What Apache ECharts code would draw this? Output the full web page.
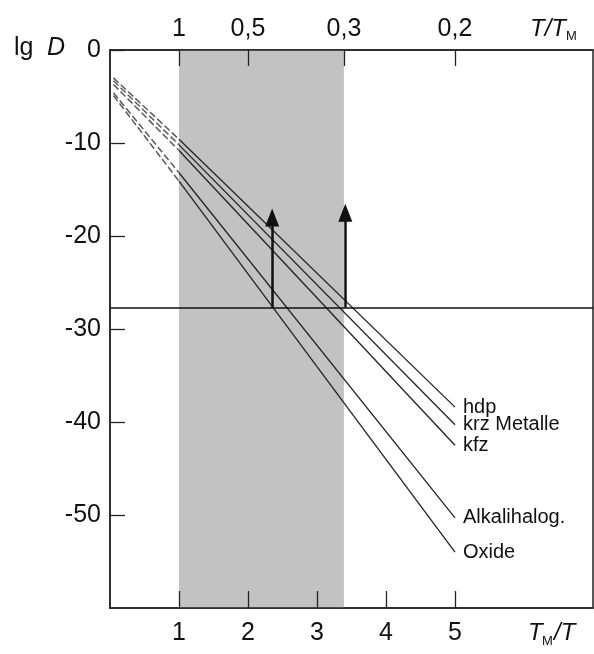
<!DOCTYPE html>
<html>
<head>
<meta charset="utf-8">
<script src="https://cdn.jsdelivr.net/npm/echarts@6/dist/echarts.min.js"></script>
<style>html,body{margin:0;padding:0;background:#fff}#c{width:594px;height:654px}</style>
</head>
<body>
<div id="c"></div>
<script>
// ---- data ----
const lineNames = ['hdp', 'krz Metalle', 'kfz', 'Alkalihalog.', 'Oxide'];
const xStart = 0.05, xBend = 1, xEnd = 5;
const valStart = [-3.0, -3.3, -3.7, -4.6, -4.9];
const valBend = [-9.6, -10.2, -10.8, -13.2, -14.1];
const valEnd = [-38.4, -40.3, -42.5, -50.3, -54.0];
const refLevel = -27.7;
const arrowX = [2.35, 3.41];
const arrowTop = [-18.0, -17.5];
const bandRange = [1, 3.39];
const bottomTicks = [1, 2, 3, 4, 5];
const topTickPos = [1, 2, 3.39, 5];
const topTickLabels = ['1', '0,5', '0,3', '0,2'];
const yTicks = [0, -10, -20, -30, -40, -50];

const FONT = '"Liberation Sans", Arial, sans-serif';
const chart = echarts.init(document.getElementById('c'), null, {renderer: 'canvas'});

const series = [];
lineNames.forEach((name, i) => {
  series.push({
    type: 'line', name: name + '_d', xAxisIndex: 0, yAxisIndex: 0,
    data: [[xStart, valStart[i]], [xBend, valBend[i]]],
    showSymbol: false, silent: true,
    lineStyle: {color: '#5a5a5a', width: 1.5, type: [7, 3]}
  });
  series.push({
    type: 'line', name: name, xAxisIndex: 0, yAxisIndex: 0,
    data: [[xBend, valBend[i]], [xEnd, valEnd[i]]],
    showSymbol: false, silent: true,
    lineStyle: {color: '#222', width: 1.3},
    endLabel: {show: true, formatter: name, distance: 8, color: '#111',
      fontFamily: FONT, fontSize: 20}
  });
});
// band + reference line + arrows
series.push({
  type: 'line', xAxisIndex: 0, yAxisIndex: 0, data: [], silent: true, z: 1,
  markArea: {silent: true, itemStyle: {color: '#c2c2c2'},
    data: [[{xAxis: bandRange[0]}, {xAxis: bandRange[1]}]]}
});
series.push({
  type: 'line', xAxisIndex: 0, yAxisIndex: 0, data: [], silent: true, z: 5,
  markLine: {silent: true, symbol: 'none', animation: false,
    label: {show: false},
    lineStyle: {color: '#111', width: 1.5, type: 'solid'},
    data: [{yAxis: refLevel}]}
});
series.push({
  type: 'line', xAxisIndex: 0, yAxisIndex: 0, data: [], silent: true, z: 6,
  markLine: {silent: true, symbol: ['none', 'triangle'], symbolSize: [14, 18], animation: false,
    label: {show: false},
    lineStyle: {color: '#111', width: 2.5, type: 'solid'},
    itemStyle: {color: '#111'},
    data: arrowX.map((x, i) => [{coord: [x, refLevel]}, {coord: [x, arrowTop[i]]}])}
});

const axisLineStyle = {onZero: false, lineStyle: {color: '#222', width: 1.5}};
chart.setOption({
  animation: false,
  textStyle: {fontFamily: FONT},
  grid: {left: 110, right: 1, top: 50, bottom: 46, show: true, borderColor: '#222', borderWidth: 1.5},
  xAxis: [
    {type: 'value', min: 0, max: 7, interval: 1, position: 'bottom', z: 10,
      axisLine: axisLineStyle, splitLine: {show: false},
      axisTick: {inside: true, length: 17, customValues: bottomTicks, lineStyle: {color: '#222', width: 1.3}},
      axisLabel: {customValues: bottomTicks, fontSize: 25, color: '#111', margin: 13}},
    {type: 'value', min: 0, max: 7, position: 'top', z: 10,
      axisLine: axisLineStyle, splitLine: {show: false},
      axisTick: {inside: true, length: 16, customValues: topTickPos, lineStyle: {color: '#222', width: 1.3}},
      axisLabel: {customValues: topTickPos, fontSize: 25, color: '#111', margin: 8,
        formatter: v => topTickLabels[topTickPos.findIndex(p => Math.abs(p - v) < 1e-6)]}}
  ],
  yAxis: [
    {type: 'value', min: -60, max: 0, interval: 10, z: 10,
      axisLine: axisLineStyle, splitLine: {show: false},
      axisTick: {inside: true, length: 15, customValues: yTicks, lineStyle: {color: '#222', width: 1.3}},
      axisLabel: {customValues: yTicks, fontSize: 25, color: '#111', margin: 9}}
  ],
  graphic: [
    {type: 'text', left: 14, top: 36, style: {text: 'lg', font: '25px ' + FONT, fill: '#111'}},
    {type: 'text', left: 47, top: 36, style: {text: 'D', font: 'italic 25px ' + FONT, fill: '#111'}},
    {type: 'text', left: 530, top: 17, style: {text: 'T/T', font: 'italic 24px ' + FONT, fill: '#111'}},
    {type: 'text', left: 566, top: 30, style: {text: 'M', font: '13px ' + FONT, fill: '#111'}},
    {type: 'text', left: 528, top: 621, style: {text: 'T', font: 'italic 24px ' + FONT, fill: '#111'}},
    {type: 'text', left: 542, top: 635, style: {text: 'M', font: '13px ' + FONT, fill: '#111'}},
    {type: 'text', left: 554, top: 621, style: {text: '/T', font: 'italic 24px ' + FONT, fill: '#111'}}
  ],
  series: series
});
</script>
</body>
</html>
